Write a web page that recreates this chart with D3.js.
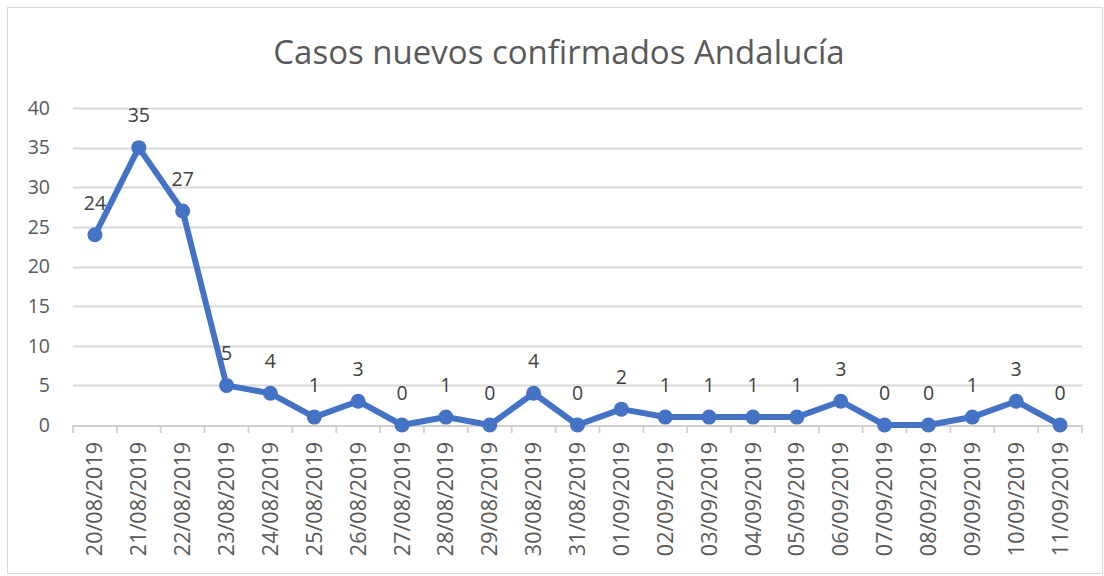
<!DOCTYPE html>
<html><head><meta charset="utf-8">
<script src="https://cdn.jsdelivr.net/npm/d3@7"></script>
<style>body{margin:0;background:#fff}svg{display:block}</style>
</head><body>
<svg id="c" width="1104" height="576"></svg>
<script>
const title = "Casos nuevos confirmados Andalucía";
const categories = ["20/08/2019","21/08/2019","22/08/2019","23/08/2019","24/08/2019","25/08/2019","26/08/2019","27/08/2019","28/08/2019","29/08/2019","30/08/2019","31/08/2019","01/09/2019","02/09/2019","03/09/2019","04/09/2019","05/09/2019","06/09/2019","07/09/2019","08/09/2019","09/09/2019","10/09/2019","11/09/2019"];
const values = [24,35,27,5,4,1,3,0,1,0,4,0,2,1,1,1,1,3,0,0,1,3,0];
const yTicks = [0,5,10,15,20,25,30,35,40];

const svg = d3.select("#c");
const font = "'Open Sans', sans-serif";
svg.append("rect").attr("x",7.5).attr("y",7.5).attr("width",1095).attr("height",566)
  .attr("fill","#fff").attr("stroke","#d9d9d9").attr("stroke-width",1);

const x0 = 73, x1 = 1082, yTop = 108, yBot = 425;
const x = d3.scaleBand().domain(categories).range([x0,x1]);
const y = d3.scaleLinear().domain([0,40]).range([yBot,yTop]);

svg.append("text").attr("x",559).attr("y",64).attr("text-anchor","middle")
  .attr("font-family",font).attr("font-size",33).attr("fill","#595959")
  .text(title);

// gridlines
svg.append("g").selectAll("line").data(yTicks.filter(d=>d>0)).join("line")
  .attr("x1",x0).attr("x2",x1).attr("y1",d=>Math.round(y(d))+0.5).attr("y2",d=>Math.round(y(d))+0.5)
  .attr("stroke","#d9d9d9").attr("stroke-width",1.8);

// y labels
svg.append("g").selectAll("text").data(yTicks).join("text")
  .attr("x",50).attr("y",d=>y(d)).attr("dy","0.35em").attr("text-anchor","end")
  .attr("font-family",font).attr("font-size",19.5).attr("fill","#595959")
  .text(d=>d);

// x axis
const xAxis = d3.axisBottom(x).tickSize(0).tickFormat("");
const gx = svg.append("g").attr("transform",`translate(0,${yBot+0.5})`).call(xAxis);
gx.select(".domain").attr("stroke","#d0d0d0").attr("stroke-width",1.8);
const bounds = categories.map(c=>x(c)).concat([x1]);
svg.append("g").selectAll("line").data(bounds).join("line")
  .attr("x1",d=>d).attr("x2",d=>d).attr("y1",yBot).attr("y2",yBot+8)
  .attr("stroke","#d0d0d0").attr("stroke-width",1.8);

svg.append("g").selectAll("text").data(categories).join("text")
  .attr("transform",d=>`translate(${x(d)+x.bandwidth()/2},442) rotate(-90)`)
  .attr("text-anchor","end").attr("dy","0.35em")
  .attr("font-family",font).attr("font-size",21.5).attr("fill","#595959")
  .text(d=>d);

// line
const cx = (d,i)=>x(categories[i])+x.bandwidth()/2;
const line = d3.line().x((d,i)=>cx(d,i)).y(d=>y(d));
svg.append("path").datum(values).attr("d",line).attr("fill","none")
  .attr("stroke","#4472C4").attr("stroke-width",6).attr("stroke-linejoin","round");
svg.append("g").selectAll("circle").data(values).join("circle")
  .attr("cx",cx).attr("cy",d=>y(d)).attr("r",7.5).attr("fill","#4472C4");

// data labels
svg.append("g").selectAll("text").data(values).join("text")
  .attr("x",cx).attr("y",d=>y(d)-32).attr("dy","0.35em").attr("text-anchor","middle")
  .attr("font-family",font).attr("font-size",19.5).attr("fill","#404040")
  .text(d=>d);
</script>
</body></html>
